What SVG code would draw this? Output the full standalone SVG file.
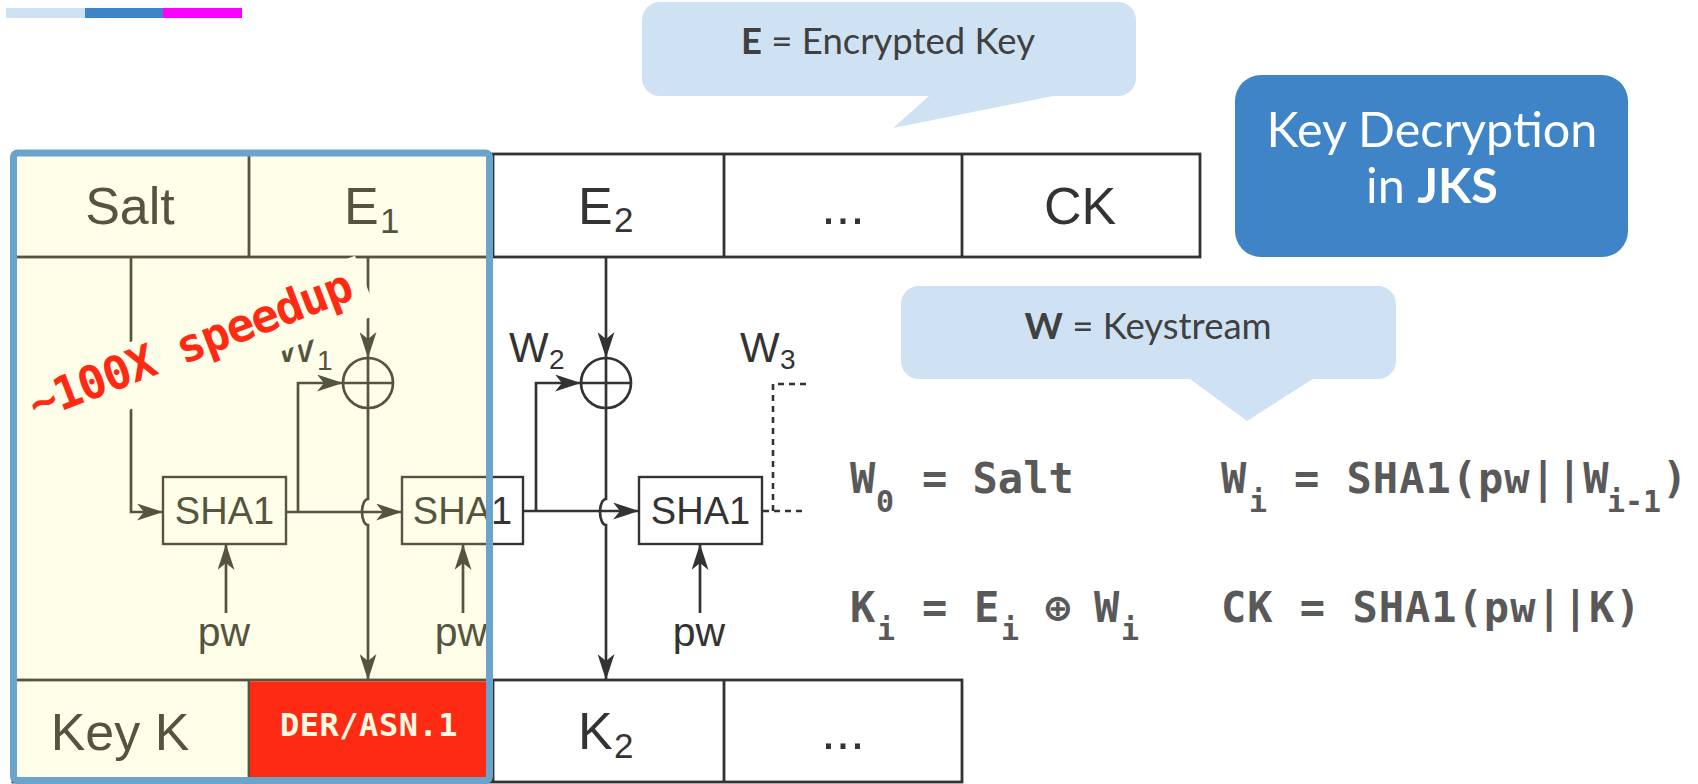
<svg xmlns="http://www.w3.org/2000/svg" width="1698" height="784" viewBox="0 0 1698 784">
<style>
.ln{fill:none;stroke:#333;stroke-width:2.7}
.ar{marker-end:url(#arr)}
.dash{fill:none;stroke:#333;stroke-width:2.6;stroke-dasharray:6 5}
.box{fill:none;stroke:#333;stroke-width:2.4}
.tb{fill:none;stroke:#333;stroke-width:2.8}
.lbl{font-family:"Liberation Sans",Arial,sans-serif;fill:#333}
.cell{font-size:52px;text-anchor:middle}
.sha{font-size:38px;text-anchor:middle}
.pw{font-size:41px;text-anchor:middle}
.mono{font-family:"DejaVu Sans Mono","Liberation Mono",monospace;font-weight:bold}
.frm{fill:#595959;font-size:42px}
.sub{font-size:30px}
.call{fill:#CFE2F3}
.ctext{font-family:Lato,"Noto Sans",sans-serif;font-size:36.5px;fill:#404040;text-anchor:middle}
</style>
<defs>
<marker id="arr" viewBox="0 0 26 17" refX="25" refY="8.5" markerWidth="26" markerHeight="17" orient="auto" markerUnits="userSpaceOnUse">
<path d="M0,0 L26,8.5 L0,17 L7,8.5 Z" fill="#333"/>
</marker>
</defs>

<g id="colorbar">
<rect x="6" y="8" width="79" height="10" fill="#CFE2F3"/>
<rect x="85" y="8" width="78" height="10" fill="#3D85C6"/>
<rect x="163" y="8" width="79" height="10" fill="#FF00FF"/>
</g>

<g id="callout-e">
<path class="call" d="M660,2 H1118 A18,18 0 0 1 1136,20 V78 A18,18 0 0 1 1118,96 H1053 L893,128 L929,96 H660 A18,18 0 0 1 642,78 V20 A18,18 0 0 1 660,2 Z"/>
<text class="ctext" x="888" y="54"><tspan font-weight="bold">E</tspan> = Encrypted Key</text>
</g>

<g id="title">
<rect x="1235" y="75" width="393" height="182" rx="26" fill="#3E84C6"/>
<text x="1432" y="147" font-family="Lato,'Noto Sans',sans-serif" font-size="48.5" fill="#fff" text-anchor="middle">Key Decryption</text>
<text x="1432" y="203" font-family="Lato,'Noto Sans',sans-serif" font-size="48.5" fill="#fff" text-anchor="middle">in <tspan font-weight="bold">JKS</tspan></text>
</g>

<g id="callout-w">
<path class="call" d="M919,286 H1378 A18,18 0 0 1 1396,304 V361 A18,18 0 0 1 1378,379 H1313 L1247,421 L1190,379 H919 A18,18 0 0 1 901,361 V304 A18,18 0 0 1 919,286 Z"/>
<text class="ctext" x="1148" y="339"><tspan font-weight="bold">W</tspan> = Keystream</text>
</g>

<g id="encrypted-row">
<rect class="tb" x="13" y="154" width="1187" height="103"/>
<line class="tb" x1="249" y1="154" x2="249" y2="257"/>
<line class="tb" x1="493" y1="154" x2="493" y2="257"/>
<line class="tb" x1="724" y1="154" x2="724" y2="257"/>
<line class="tb" x1="962" y1="154" x2="962" y2="257"/>
<text class="lbl cell" x="130" y="224">Salt</text>
<text class="lbl" font-size="52" x="344" y="224">E<tspan x="380" y="233" font-size="35">1</tspan></text>
<text class="lbl" font-size="52" x="578" y="224">E<tspan x="614" y="232" font-size="35">2</tspan></text>
<text class="lbl cell" x="843" y="224">...</text>
<text class="lbl cell" x="1080" y="224">CK</text>
</g>

<g id="key-row">
<rect class="tb" x="13" y="680" width="949" height="102"/>
<line class="tb" x1="249" y1="680" x2="249" y2="782"/>
<line class="tb" x1="493" y1="680" x2="493" y2="782"/>
<line class="tb" x1="724" y1="680" x2="724" y2="782"/>
<text class="lbl cell" x="120" y="750">Key K</text>
<text class="lbl" font-size="52" x="578" y="749">K<tspan x="614" y="758" font-size="35">2</tspan></text>
<text class="lbl cell" x="843" y="749">...</text>
</g>

<g id="sha1-1">
<rect class="box" x="163" y="477" width="123" height="67"/>
<text class="lbl sha" x="224.5" y="524">SHA1</text>
</g>
<g id="sha1-2">
<rect class="box" x="402" y="477" width="121" height="67"/>
<text class="lbl sha" x="462.5" y="524">SHA1</text>
</g>
<g id="sha1-3">
<rect class="box" x="639" y="477" width="123" height="67"/>
<text class="lbl sha" x="700.5" y="524">SHA1</text>
</g>

<g id="xor-1">
<circle class="ln" cx="368" cy="383" r="25"/>
<path class="ln" d="M343,383 H393 M368,358 V408"/>
</g>
<g id="xor-2">
<circle class="ln" cx="606" cy="383" r="25"/>
<path class="ln" d="M581,383 H631 M606,358 V408"/>
</g>

<g id="labels">
<text class="lbl" font-size="42" x="276" y="362">W<tspan x="317" y="370" font-size="28">1</tspan></text>
<text class="lbl" font-size="42" x="509" y="362">W<tspan x="549" y="369" font-size="28">2</tspan></text>
<text class="lbl" font-size="42" x="740" y="362">W<tspan x="780" y="369" font-size="28">3</tspan></text>
<text class="lbl pw" x="224" y="646">pw</text>
<text class="lbl pw" x="461" y="646">pw</text>
<text class="lbl pw" x="699" y="646">pw</text>
</g>

<g id="connectors">
<path class="ln ar" d="M131,257 V512 H162"/>
<path class="ln ar" d="M286,512 H401"/>
<path class="ln ar" d="M298,512 V383 H342"/>
<path class="ln ar" d="M368,257 V357"/>
<path class="ln ar" d="M368,408 V499 A6,13 0 0 0 368,525 V679"/>
<path class="ln ar" d="M226,613 V545"/>
<path class="ln ar" d="M523,511 H638"/>
<path class="ln ar" d="M536,511 V383 H580"/>
<path class="ln ar" d="M606,257 V357"/>
<path class="ln ar" d="M606,408 V499 A6,13 0 0 0 606,525 V679"/>
<path class="ln ar" d="M463,613 V545"/>
<path class="ln ar" d="M700,613 V545"/>
<path class="dash" d="M763,511 H807 M773,511 V384 H811"/>
</g>

<g id="formulas" class="mono frm">
<text y="493"><tspan x="850">W</tspan><tspan class="sub" x="876" y="512">0</tspan><tspan x="922" y="493">= Salt</tspan></text>
<text y="493" letter-spacing="1"><tspan x="1221">W</tspan><tspan class="sub" x="1249" y="512">i</tspan><tspan x="1294" y="493">= SHA1(pw||W</tspan><tspan class="sub" x="1607" y="512" letter-spacing="0">i-1</tspan><tspan x="1662" y="493">)</tspan></text>
<text y="622"><tspan x="850">K</tspan><tspan class="sub" x="877" y="640">i</tspan><tspan x="922" y="622">=</tspan><tspan x="974">E</tspan><tspan class="sub" x="1001" y="640">i</tspan><tspan x="1045" y="622">⊕</tspan><tspan x="1094">W</tspan><tspan class="sub" x="1121" y="640">i</tspan></text>
<text x="1221" y="622" letter-spacing="1">CK = SHA1(pw||K)</text>
</g>

<g id="highlight">
<rect x="13" y="153" width="477" height="627" fill="#FFF978" fill-opacity="0.17"/>
</g>

<g id="der-box">
<rect x="250" y="681.4" width="240" height="101" fill="#FF2A14"/>
<text class="mono" x="369" y="736" font-size="32" letter-spacing="0.5" fill="#FFFBE2" text-anchor="middle">DER/ASN.1</text>
</g>

<g id="speedup" transform="translate(36,421) rotate(-21)">
<rect x="-6" y="-40" width="363" height="63" fill="#FFFEE8"/>
<text class="mono" x="0" y="0" font-size="46" letter-spacing="-1.4" fill="#FF2A14">~100X speedup</text>
</g>

<g id="frame">
<rect x="13.5" y="153" width="476" height="627.5" rx="4" fill="none" stroke="#6AA4CC" stroke-width="7"/>
</g>
</svg>
